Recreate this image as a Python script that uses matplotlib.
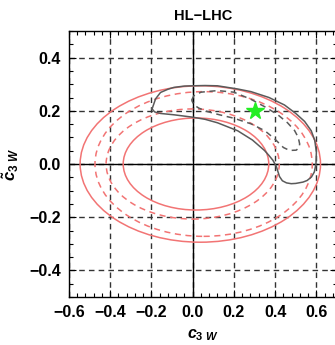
import matplotlib
matplotlib.use("Agg")
import matplotlib.pyplot as plt
from matplotlib.patches import Ellipse
from matplotlib.ticker import MultipleLocator, FuncFormatter

plt.rcParams['font.family'] = ['Liberation Sans', 'DejaVu Sans']
plt.rcParams['mathtext.fontset'] = 'custom'
plt.rcParams['mathtext.it'] = 'Liberation Sans:italic:bold'
plt.rcParams['mathtext.rm'] = 'Liberation Sans:bold'

# red rings (centre in c3W, half-widths)
ring_cx = [0.016, 0.0, 0.053, 0.037]
ring_a = [0.353, 0.42, 0.527, 0.583]
ring_b = [0.173, 0.207, 0.272, 0.294]
ring_dashed = [False, True, True, False]

# grey banana, solid contour
grey_x = [-0.197, -0.18, -0.156, -0.12, -0.091, -0.04, 0.0, 0.06, 0.12, 0.218,
          0.283, 0.37, 0.445, 0.5, 0.543, 0.575, 0.592, 0.6, 0.598, 0.59,
          0.576, 0.555, 0.535, 0.5, 0.478, 0.455, 0.435, 0.421, 0.412, 0.405,
          0.389, 0.37, 0.348, 0.29, 0.218, 0.12, 0.06, 0.0, -0.091, -0.156,
          -0.185, -0.197]
grey_y = [0.207, 0.245, 0.269, 0.281, 0.288, 0.293, 0.294, 0.295, 0.294, 0.282,
          0.272, 0.25, 0.222, 0.19, 0.16, 0.125, 0.089, 0.045, 0.0, -0.03,
          -0.049, -0.062, -0.068, -0.073, -0.074, -0.071, -0.063, -0.047, -0.025, -0.008,
          0.014, 0.032, 0.051, 0.09, 0.125, 0.155, 0.168, 0.176, 0.185, 0.19,
          0.196, 0.207]

# grey banana, dashed contour
grey_dx = [-0.005, 0.006, 0.04, 0.12, 0.2, 0.283, 0.35, 0.413, 0.46, 0.494,
           0.512, 0.519, 0.515, 0.502, 0.47, 0.44, 0.397, 0.35, 0.283, 0.2,
           0.13, 0.072, 0.03, 0.006, -0.005]
grey_dy = [0.24, 0.257, 0.27, 0.276, 0.27, 0.243, 0.215, 0.185, 0.155, 0.126,
           0.1, 0.075, 0.06, 0.052, 0.051, 0.062, 0.095, 0.125, 0.151, 0.172,
           0.185, 0.197, 0.21, 0.222, 0.24]

best_fit = (0.3, 0.2)

fig = plt.figure(figsize=(3.35, 3.45), dpi=100)
ax = fig.add_axes([69/335, 48/345, 268/335, 266/345])

red = '#f27474'
for cx, a, b, d in zip(ring_cx, ring_a, ring_b, ring_dashed):
    e = Ellipse((cx, 0), 2*a, 2*b, fill=False, edgecolor=red, lw=1.1,
                linestyle=(0, (4, 3)) if d else '-', zorder=3)
    ax.add_patch(e)

ax.plot(grey_x, grey_y, color='#5a5a5a', lw=1.1, zorder=4)
ax.plot(grey_dx, grey_dy, color='#5a5a5a', lw=1.1, ls=(0, (4, 3)), zorder=4)
ax.plot(*best_fit, marker='*', color='#22ee22', markersize=13, mec='#22ee22', zorder=5)

ax.set_xlim(-0.6, 0.7)
ax.set_ylim(-0.5, 0.5)
ax.xaxis.set_major_locator(MultipleLocator(0.2))
ax.xaxis.set_minor_locator(MultipleLocator(0.04))
ax.yaxis.set_major_locator(MultipleLocator(0.2))
ax.yaxis.set_minor_locator(MultipleLocator(0.05))
fmt = FuncFormatter(lambda v, p: ('%.1f' % (0.0 if abs(v) < 1e-9 else v)).replace('-', '\u2212'))
ax.xaxis.set_major_formatter(fmt)
ax.yaxis.set_major_formatter(fmt)

ax.grid(True, which='major', color='#333333', lw=1, ls=(0, (4, 3)), zorder=1)
ax.axhline(0, color='black', lw=1, zorder=2)
ax.axvline(0, color='black', lw=1, zorder=2)
ax.set_axisbelow(True)

ax.tick_params(which='both', direction='in', top=True, right=True, width=0.8,
               labelsize=11.5, pad=6)
ax.tick_params(which='major', length=5)
ax.tick_params(which='minor', length=3)
for lab in ax.get_xticklabels() + ax.get_yticklabels():
    lab.set_fontweight('bold')
for s in ax.spines.values():
    s.set_linewidth(1)

ax.set_title('HL\u2212LHC', fontsize=10.5, fontweight='bold', pad=8)
ax.set_xlabel(r'$c_{3\ W}$', fontsize=11.5, labelpad=5)
ax.set_ylabel(r'$\tilde{c}_{3\ W}$', fontsize=12, labelpad=6)

fig.savefig('out.png', dpi=100)
